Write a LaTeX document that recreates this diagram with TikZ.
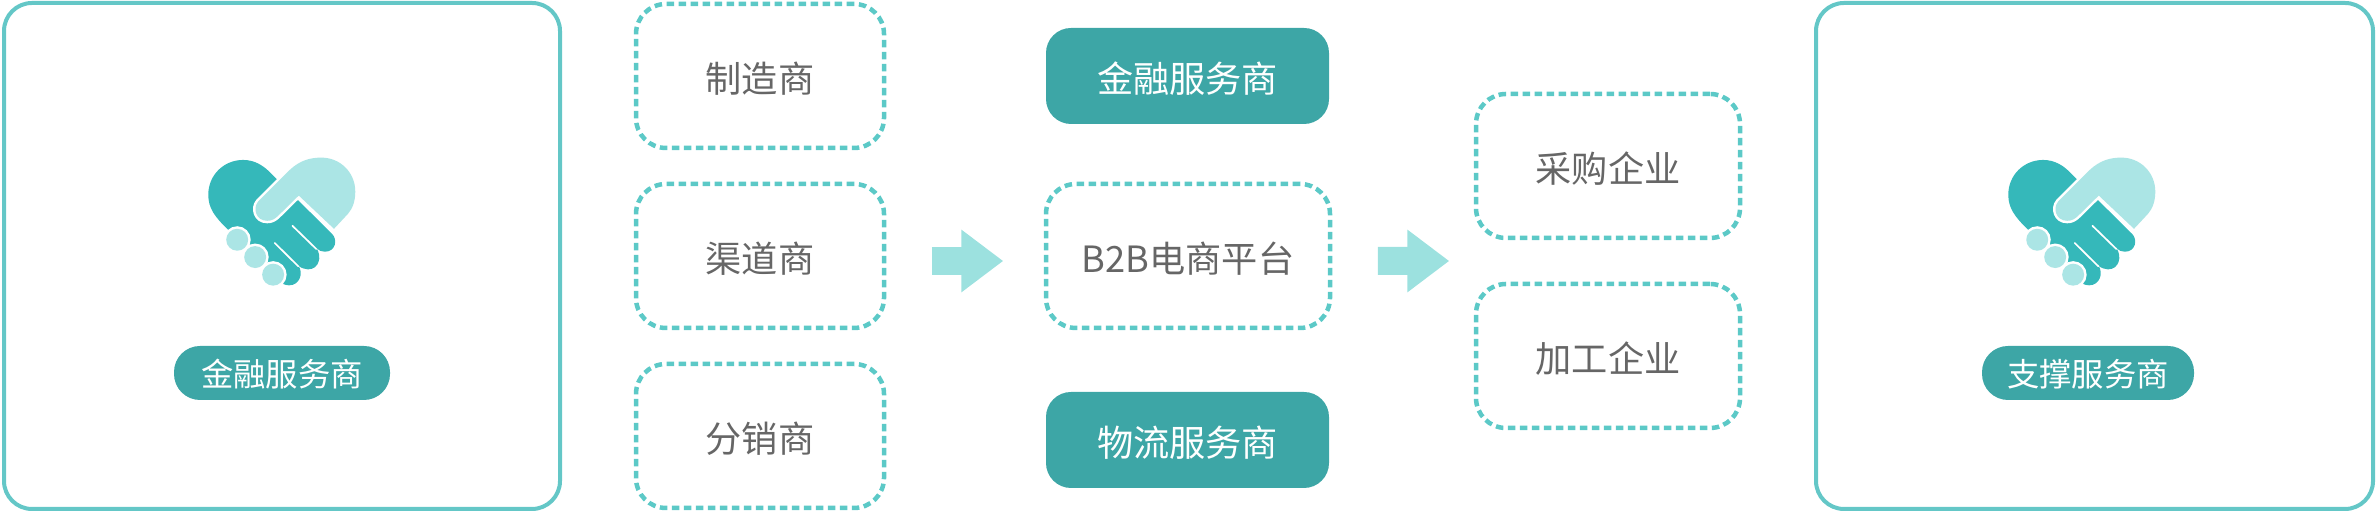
\documentclass[tikz,border=0pt]{standalone}
\usepackage{fontspec}
\setmainfont{Noto Sans CJK SC}
\usepackage{xcolor}
\usetikzlibrary{arrows.meta, calc}
\definecolor{paneledge}{HTML}{64C7C7}
\definecolor{dashedge}{HTML}{5CC9C7}
\definecolor{tealfill}{HTML}{3DA6A6}
\definecolor{arrowfill}{HTML}{9CE1DF}
\definecolor{handdark}{HTML}{35B8BA}
\definecolor{handlight}{HTML}{ABE5E5}
\definecolor{labelgray}{HTML}{666666}
\tikzset{
  panelbox/.style={draw=paneledge, line width=.04cm, rounded corners=.28cm, inner sep=0pt},
  dashbox/.style={draw=dashedge, line width=.045cm, dash pattern=on .075cm off .045cm, rounded corners=.3cm,
    inner sep=0pt, text=labelgray, text height=.37cm, text depth=.04cm, font=\fontsize{10.3}{12}\selectfont},
  solidbox/.style={fill=tealfill, rounded corners=.25cm, inner sep=0pt, minimum width=2.83cm, minimum height=.96cm,
    text=white, text height=.37cm, text depth=.04cm, font=\fontsize{10.3}{12}\selectfont},
  pilllabel/.style={fill=tealfill, rounded corners=.26cm, inner sep=0pt, minimum height=.54cm,
    text=white, text height=.31cm, text depth=.04cm, font=\fontsize{9.2}{11}\selectfont},
  blockarrow/.style={draw=arrowfill, line width=.28cm, -{Triangle[length=.42cm,width=.6cm]}},
  lighthand/.style={fill=handlight, preaction={draw=white, line width=.05cm}},
  handshake/.pic={
    \begin{scope}[x=.003333cm, y=-.003333cm]
    \fill[handdark] (145,270) .. controls (105,232) and (85,205) .. (85,165)
      .. controls (85,105) and (132,60) .. (190,60)
      .. controls (225,60) and (250,78) .. (265,92)
      -- (457,282) .. controls (475,300) and (468,336) .. (435,336)
      .. controls (425,336) and (417,332) .. (410,325)
      .. controls (428,350) and (418,389) .. (385,389)
      .. controls (375,389) and (365,385) .. (356,378)
      .. controls (372,400) and (360,437) .. (328,437)
      .. controls (320,437) and (315,435) .. (308,432) -- (270,400) -- cycle;
    \draw[white, line width=.017cm, line cap=round] (338,258) -- (410,328);
    \draw[white, line width=.017cm, line cap=round] (285,310) -- (356,380);
    \path[lighthand] (463,267) -- (505,222) .. controls (520,205) and (527,182) .. (527,155)
      .. controls (527,98) and (482,53) .. (425,53)
      .. controls (390,53) and (360,62) .. (330,90)
      -- (235,185) .. controls (218,205) and (228,243) .. (262,243)
      .. controls (275,243) and (285,238) .. (295,228) -- (357,167) -- cycle;
    \path[lighthand] (172,300) circle [radius=33];
    \path[lighthand] (226,352) circle [radius=33];
    \path[lighthand] (280,405) circle [radius=33];
    \end{scope}
  }
}
\begin{document}
\begin{tikzpicture}
  \useasboundingbox (0,0) rectangle (23.76,5.12);
  \node[panelbox, minimum width=5.56cm, minimum height=5.06cm] (finpanel) at (2.82,2.56) {};
  \node[panelbox, minimum width=5.57cm, minimum height=5.06cm] (suppanel) at (20.945,2.56) {};
  \pic at (1.8,3.72) {handshake};
  \pic at (19.8,3.72) {handshake};
  \node[pilllabel, minimum width=2.16cm] (finpill) at (2.82,1.39) {金融服务商};
  \node[pilllabel, minimum width=2.12cm] (suppill) at (20.88,1.39) {支撑服务商};
  \node[dashbox, minimum width=2.48cm, minimum height=1.44cm] (maker) at (7.6,4.36) {制造商};
  \node[dashbox, minimum width=2.48cm, minimum height=1.44cm] (channel) at (7.6,2.56) {渠道商};
  \node[dashbox, minimum width=2.48cm, minimum height=1.44cm] (reseller) at (7.6,.76) {分销商};
  \node[solidbox] (finance) at (11.875,4.36) {金融服务商};
  \node[dashbox, minimum width=2.84cm, minimum height=1.44cm] (platform) at (11.88,2.56) {B2B电商平台};
  \node[solidbox] (logistics) at (11.875,.72) {物流服务商};
  \node[dashbox, minimum width=2.64cm, minimum height=1.44cm] (buyer) at (16.08,3.46) {采购企业};
  \node[dashbox, minimum width=2.64cm, minimum height=1.44cm] (processor) at (16.08,1.56) {加工企业};
  \coordinate (midright) at ($(buyer.west)!.5!(processor.west)$);
  \draw[blockarrow, shorten <=.455cm, shorten >=.405cm] ([yshift=-.05cm]channel.east) -- ([yshift=-.05cm]platform.west);
  \draw[blockarrow, shorten <=.455cm, shorten >=.245cm] ([yshift=-.05cm]platform.east) -- (midright);
\end{tikzpicture}
\end{document}
